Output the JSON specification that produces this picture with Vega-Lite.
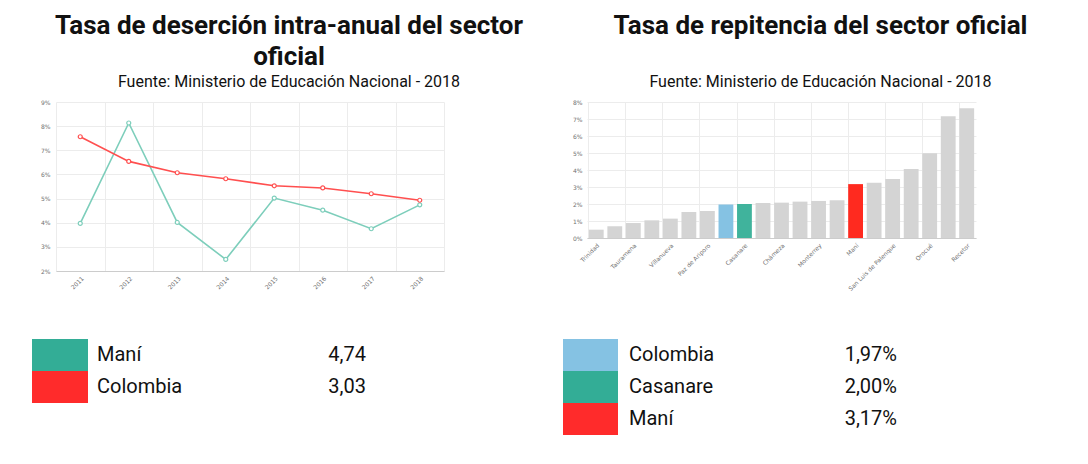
{
  "$schema": "https://vega.github.io/schema/vega-lite/v6.json",
  "padding": {"left": 32, "top": 13, "right": 5, "bottom": 5},
  "background": "white",
  "config": {
    "view": {"stroke": null},
    "font": "Roboto",
    "axis": {"labelFont": "DejaVu Sans", "labelFontSize": 6, "labelColor": "#707070", "gridColor": "#ececec", "gridWidth": 1, "ticks": false, "domain": false, "title": null},
    "title": {"font": "Roboto", "fontSize": 26, "fontWeight": "bold", "color": "#111111", "lineHeight": 31, "subtitleFont": "Roboto", "subtitleFontSize": 16, "subtitleColor": "#111111", "anchor": "middle", "offset": 9}
  },
  "columns": 1,
  "spacing": 47,
  "resolve": {"scale": {"color": "independent", "x": "independent", "y": "independent"}},
  "concat": [
    {
      "hconcat": [
        {
          "hconcat": [
            {
              "width": 1,
              "height": 1,
              "data": {"values": [{"v": 1}]},
              "mark": {"type": "rect", "opacity": 0},
              "encoding": {}
            },
            {
              "width": 388,
              "height": 169,
              "title": {"text": ["Tasa de deserción intra-anual del sector", "oficial"], "subtitle": "Fuente: Ministerio de Educación Nacional - 2018", "dx": 39, "subtitlePadding": 4},
              "data": {"values": [
                {"year": "2011", "serie": "Maní", "rate": 3.97},
                {"year": "2012", "serie": "Maní", "rate": 8.13},
                {"year": "2013", "serie": "Maní", "rate": 4.01},
                {"year": "2014", "serie": "Maní", "rate": 2.48},
                {"year": "2015", "serie": "Maní", "rate": 5.02},
                {"year": "2016", "serie": "Maní", "rate": 4.52},
                {"year": "2017", "serie": "Maní", "rate": 3.75},
                {"year": "2018", "serie": "Maní", "rate": 4.74},
                {"year": "2011", "serie": "Colombia", "rate": 7.56},
                {"year": "2012", "serie": "Colombia", "rate": 6.54},
                {"year": "2013", "serie": "Colombia", "rate": 6.07},
                {"year": "2014", "serie": "Colombia", "rate": 5.82},
                {"year": "2015", "serie": "Colombia", "rate": 5.53},
                {"year": "2016", "serie": "Colombia", "rate": 5.44},
                {"year": "2017", "serie": "Colombia", "rate": 5.2},
                {"year": "2018", "serie": "Colombia", "rate": 4.93}
              ]},
              "mark": {"type": "line", "strokeWidth": 1.6, "point": {"filled": false, "fill": "white", "size": 16, "strokeWidth": 1.2}},
              "encoding": {
                "x": {"field": "year", "type": "ordinal", "scale": {"type": "band", "paddingInner": 0, "paddingOuter": 0},
                      "axis": {"tickBand": "extent", "grid": true, "labelAngle": -45, "domain": true, "domainColor": "#cccccc", "labelPadding": 4}},
                "y": {"field": "rate", "type": "quantitative", "scale": {"domain": [2, 9], "nice": false},
                      "axis": {"values": [2, 3, 4, 5, 6, 7, 8, 9], "labelExpr": "datum.value + '%'", "labelPadding": 6}},
                "color": {"field": "serie", "type": "nominal", "scale": {"domain": ["Maní", "Colombia"], "range": ["#7dcebb", "#ff4f4f"]}, "legend": null}
              }
            }
          ],
          "spacing": 7,
          "resolve": {"scale": {"color": "independent", "x": "independent", "y": "independent"}}
        },
        {
          "width": 389,
          "height": 136,
          "title": {"text": "Tasa de repitencia del sector oficial", "subtitle": "Fuente: Ministerio de Educación Nacional - 2018", "dx": 39, "subtitlePadding": 35},
          "data": {"values": [
            {"name": "Trinidad", "grupo": "Municipio", "rate": 0.49},
            {"name": "Sácama", "grupo": "Municipio", "rate": 0.69},
            {"name": "Tauramena", "grupo": "Municipio", "rate": 0.88},
            {"name": "Aguazul", "grupo": "Municipio", "rate": 1.04},
            {"name": "Villanueva", "grupo": "Municipio", "rate": 1.14},
            {"name": "Yopal", "grupo": "Municipio", "rate": 1.53},
            {"name": "Paz de Ariporo", "grupo": "Municipio", "rate": 1.59},
            {"name": "Colombia", "grupo": "Colombia", "rate": 1.97},
            {"name": "Casanare", "grupo": "Casanare", "rate": 2.0},
            {"name": "Nunchía", "grupo": "Municipio", "rate": 2.06},
            {"name": "Chámeza", "grupo": "Municipio", "rate": 2.08},
            {"name": "Pore", "grupo": "Municipio", "rate": 2.14},
            {"name": "Monterrey", "grupo": "Municipio", "rate": 2.18},
            {"name": "Hato Corozal", "grupo": "Municipio", "rate": 2.22},
            {"name": "Maní", "grupo": "Maní", "rate": 3.17},
            {"name": "Támara", "grupo": "Municipio", "rate": 3.25},
            {"name": "San Luis de Palenque", "grupo": "Municipio", "rate": 3.47},
            {"name": "Sabanalarga", "grupo": "Municipio", "rate": 4.06},
            {"name": "Orocué", "grupo": "Municipio", "rate": 4.98},
            {"name": "La Salina", "grupo": "Municipio", "rate": 7.16},
            {"name": "Recetor", "grupo": "Municipio", "rate": 7.63}
          ]},
          "mark": {"type": "bar"},
          "encoding": {
            "x": {"field": "name", "type": "nominal", "sort": null, "scale": {"paddingInner": 0.2, "paddingOuter": 0.1},
                  "axis": {"values": ["Trinidad", "Tauramena", "Villanueva", "Paz de Ariporo", "Casanare", "Chámeza", "Monterrey", "Maní", "San Luis de Palenque", "Orocué", "Recetor"],
                           "bandPosition": 0, "grid": true, "labelAngle": -45, "domain": true, "domainColor": "#cccccc", "labelPadding": 4}},
            "y": {"field": "rate", "type": "quantitative", "scale": {"domain": [0, 8], "nice": false},
                  "axis": {"values": [0, 1, 2, 3, 4, 5, 6, 7, 8], "labelExpr": "datum.value + '%'", "labelPadding": 5}},
            "color": {"field": "grupo", "type": "nominal", "scale": {"domain": ["Municipio", "Colombia", "Casanare", "Maní"], "range": ["#d4d4d4", "#85c2e3", "#40b39c", "#ff2a1f"]}, "legend": null}
          }
        }
      ],
      "spacing": 49,
      "resolve": {"scale": {"color": "independent", "x": "independent", "y": "independent"}}
    },
    {
      "hconcat": [
        {
          "hconcat": [
            {
              "width": 56,
              "height": 64,
              "data": {"values": [{"name": "Maní", "val": "4,74"}, {"name": "Colombia", "val": "3,03"}]},
              "mark": {"type": "bar"},
              "encoding": {
                "y": {"field": "name", "type": "nominal", "sort": null, "scale": {"paddingInner": 0, "paddingOuter": 0}, "axis": null},
                "x": {"datum": 1, "type": "quantitative", "scale": {"domain": [0, 1]}, "axis": null},
                "color": {"field": "name", "type": "nominal", "scale": {"domain": ["Maní", "Colombia"], "range": ["#33ad96", "#ff2b2b"]}, "legend": null}
              }
            },
            {
              "width": 278,
              "height": 64,
              "data": {"values": [{"name": "Maní", "val": "4,74"}, {"name": "Colombia", "val": "3,03"}]},
              "encoding": {
                "y": {"field": "name", "type": "nominal", "sort": null, "scale": {"paddingInner": 0, "paddingOuter": 0}, "axis": null}
              },
              "layer": [
                {"mark": {"type": "text", "align": "left", "dx": 9, "fontSize": 20, "font": "Roboto", "color": "#111111"},
                 "encoding": {"x": {"datum": 0, "type": "quantitative", "scale": {"domain": [0, 1]}, "axis": null}, "text": {"field": "name"}}},
                {"mark": {"type": "text", "align": "right", "fontSize": 20, "font": "Roboto", "color": "#111111"},
                 "encoding": {"x": {"datum": 1, "type": "quantitative", "scale": {"domain": [0, 1]}, "axis": null}, "text": {"field": "val"}}}
              ]
            }
          ],
          "spacing": 0,
          "resolve": {"scale": {"color": "independent", "x": "independent", "y": "independent"}}
        },
        {
          "hconcat": [
            {
              "width": 55,
              "height": 96,
              "data": {"values": [{"name": "Colombia", "val": "1,97%"}, {"name": "Casanare", "val": "2,00%"}, {"name": "Maní", "val": "3,17%"}]},
              "mark": {"type": "bar"},
              "encoding": {
                "y": {"field": "name", "type": "nominal", "sort": null, "scale": {"paddingInner": 0, "paddingOuter": 0}, "axis": null},
                "x": {"datum": 1, "type": "quantitative", "scale": {"domain": [0, 1]}, "axis": null},
                "color": {"field": "name", "type": "nominal", "scale": {"domain": ["Colombia", "Casanare", "Maní"], "range": ["#85c2e3", "#33ad96", "#ff2b2b"]}, "legend": null}
              }
            },
            {
              "width": 279,
              "height": 96,
              "data": {"values": [{"name": "Colombia", "val": "1,97%"}, {"name": "Casanare", "val": "2,00%"}, {"name": "Maní", "val": "3,17%"}]},
              "encoding": {
                "y": {"field": "name", "type": "nominal", "sort": null, "scale": {"paddingInner": 0, "paddingOuter": 0}, "axis": null}
              },
              "layer": [
                {"mark": {"type": "text", "align": "left", "dx": 11, "fontSize": 20, "font": "Roboto", "color": "#111111"},
                 "encoding": {"x": {"datum": 0, "type": "quantitative", "scale": {"domain": [0, 1]}, "axis": null}, "text": {"field": "name"}}},
                {"mark": {"type": "text", "align": "right", "fontSize": 20, "font": "Roboto", "color": "#111111"},
                 "encoding": {"x": {"datum": 1, "type": "quantitative", "scale": {"domain": [0, 1]}, "axis": null}, "text": {"field": "val"}}}
              ]
            }
          ],
          "spacing": 0,
          "resolve": {"scale": {"color": "independent", "x": "independent", "y": "independent"}}
        }
      ],
      "spacing": 197,
      "resolve": {"scale": {"color": "independent", "x": "independent", "y": "independent"}}
    }
  ]
}
